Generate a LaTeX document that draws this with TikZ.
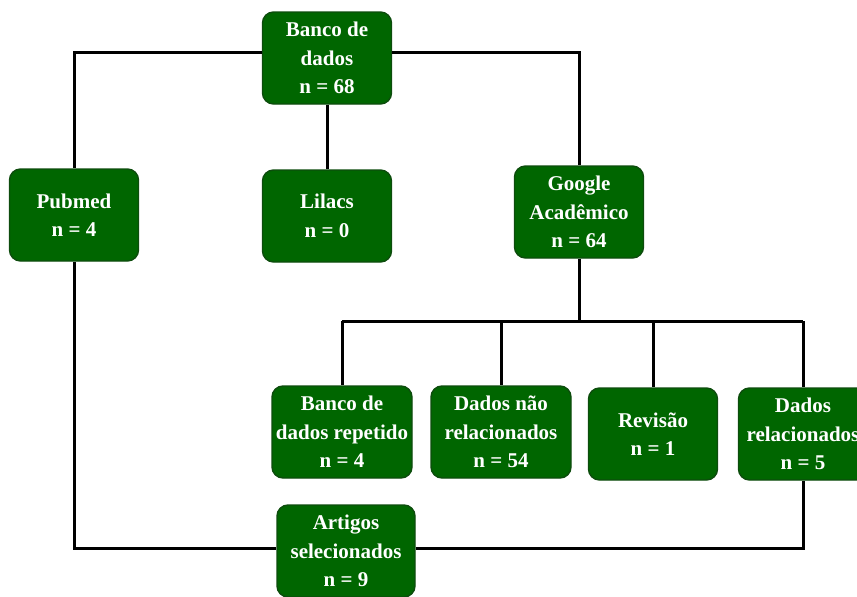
\documentclass[tikz,border=0pt]{standalone}
\usepackage{fontspec}
\setmainfont{Liberation Serif}
\usetikzlibrary{positioning, calc}
\definecolor{boxcol}{rgb}{0.00, 0.40, 0.00}
\definecolor{edgecol}{rgb}{0.05, 0.30, 0.05}
\tikzset{
  stage/.style={rectangle, draw=edgecol, fill=boxcol, rounded corners=11pt,
                minimum width=129pt, minimum height=92pt, inner sep=2pt,
                text=white, align=center, line width=1.4pt,
                font=\fontsize{21}{28.5}\selectfont\bfseries},
  wide stage/.style={stage, minimum width=140pt},
  link/.style={line width=3pt, black},
}

\begin{document}
\begin{tikzpicture}[x=1pt, y=-1pt]
    \useasboundingbox (0,0) rectangle (857,597);

    \node[stage] (banco) at (327,58) {Banco de\\dados\\n = 68};
    \node[stage] (pubmed) at (74,215) {Pubmed\\n = 4};
    \node[stage] (lilacs) at (327,216) {Lilacs\\n = 0};
    \node[stage] (google) at (579,212) {Google\\Acadêmico\\n = 64};
    \node[wide stage] (repetido) at (342,432) {Banco de\\dados repetido\\n = 4};
    \node[wide stage] (naorel) at (501,432) {Dados não\\relacionados\\n = 54};
    \node[stage] (revisao) at (653,434) {Revisão\\n = 1};
    \node[stage] (relac) at (803,434) {Dados\\relacionados\\n = 5};
    \node[wide stage, minimum width=138pt] (artigos) at (346,551) {Artigos\\selecionados\\n = 9};

    % top branches
    \draw[link] ([yshift=6pt]banco.west) -| (pubmed.north);
    \draw[link] ([yshift=6pt]banco.east) -| (google.north);
    \draw[link] (banco.south) -- (lilacs.north);

    % google split
    \coordinate (split) at (579,321);
    \draw[link] (google.south) -- (split);
    \draw[link] (repetido.north |- split) -- (relac.north |- split);
    \draw[link] (repetido.north |- split) -- (repetido.north);
    \draw[link] (naorel.north |- split) -- (naorel.north);
    \draw[link] (revisao.north |- split) -- (revisao.north);
    \draw[link] (relac.north |- split) -- (relac.north);

    % selected
    \draw[link] (pubmed.south) |- ([yshift=3pt]artigos.west);
    \draw[link] ([yshift=3pt]artigos.east) -| (relac.south);
\end{tikzpicture}
\end{document}
